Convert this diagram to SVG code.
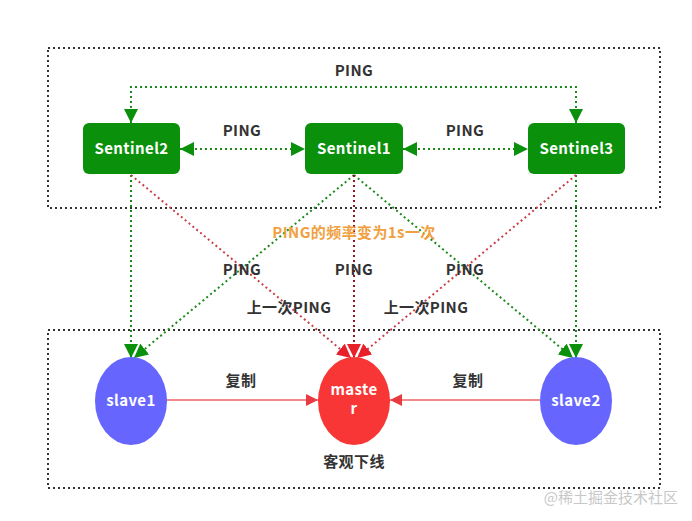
<svg xmlns="http://www.w3.org/2000/svg" width="692" height="521" viewBox="0 0 692 521">
<style>
.t{font-family:"Noto Sans CJK SC","Liberation Sans",sans-serif;font-weight:bold;font-size:15px;letter-spacing:0.4px;fill:#333;text-anchor:middle}
.w{fill:#fff}
.box{fill:none;stroke:#333;stroke-width:2;stroke-dasharray:2 3}
.g{fill:none;stroke:#1a8a1a;stroke-width:2;stroke-dasharray:2 3}
.r{fill:none;stroke:#c8404a;stroke-width:2;stroke-dasharray:2 3}
.dr{fill:none;stroke:#9a1020;stroke-width:2;stroke-dasharray:2 3}
.s{fill:none;stroke:#f08a8a;stroke-width:2}
.sent{fill:#0a900a}
</style>
<defs>
<marker id="agb" viewBox="0 0 10 10" refX="10" refY="5" markerWidth="14" markerHeight="14" markerUnits="userSpaceOnUse" orient="auto-start-reverse"><path d="M0,0 L10,5 L0,10 z" fill="#0a900a"/></marker>
<marker id="arb" viewBox="0 0 10 10" refX="10" refY="5" markerWidth="14" markerHeight="14" markerUnits="userSpaceOnUse" orient="auto"><path d="M0,0 L10,5 L0,10 z" fill="#e8202a"/></marker>
<marker id="ars" viewBox="0 0 10 10" refX="10" refY="5" markerWidth="12" markerHeight="12" markerUnits="userSpaceOnUse" orient="auto"><path d="M0,0 L10,5 L0,10 z" fill="#e83a40"/></marker>
</defs>
<rect class="box" x="48" y="48" width="612" height="160"/>
<rect class="box" x="48" y="330" width="612" height="158"/>
<g id="connectors">
<path class="g" d="M131,123 V87 H576 V123" marker-start="url(#agb)" marker-end="url(#agb)"/>
<line class="g" x1="180" y1="149" x2="305" y2="149" marker-start="url(#agb)" marker-end="url(#agb)"/>
<line class="g" x1="403" y1="149" x2="528" y2="149" marker-start="url(#agb)" marker-end="url(#agb)"/>
<line class="g" x1="131" y1="175" x2="131" y2="358" marker-end="url(#agb)"/>
<line class="g" x1="354" y1="175" x2="134" y2="358" marker-end="url(#agb)"/>
<line class="g" x1="354" y1="175" x2="573" y2="358" marker-end="url(#agb)"/>
<line class="g" x1="576" y1="175" x2="576" y2="358" marker-end="url(#agb)"/>
<line class="r" x1="131" y1="175" x2="351" y2="358" marker-end="url(#arb)"/>
<line class="dr" x1="354" y1="175" x2="354" y2="358" marker-end="url(#arb)"/>
<line class="r" x1="576" y1="175" x2="357" y2="358" marker-end="url(#arb)"/>
<line class="s" x1="167" y1="400" x2="318" y2="400" marker-end="url(#ars)"/>
<line class="s" x1="540" y1="400" x2="390" y2="400" marker-end="url(#ars)"/>
</g>
<g id="sentinel2"><rect class="sent" x="83" y="123" width="97" height="51" rx="6"/><text class="t w" x="131.5" y="154">Sentinel2</text></g>
<g id="sentinel1"><rect class="sent" x="305" y="123" width="98" height="51" rx="6"/><text class="t w" x="354" y="154">Sentinel1</text></g>
<g id="sentinel3"><rect class="sent" x="528" y="123" width="97" height="51" rx="6"/><text class="t w" x="576.5" y="154">Sentinel3</text></g>
<g id="slave1"><ellipse cx="131" cy="401" rx="36" ry="44" fill="#6666ff"/><text class="t w" x="131" y="406">slave1</text></g>
<g id="master"><ellipse cx="354" cy="401" rx="36" ry="44" fill="#f83636"/><text class="t w" x="354" y="395">maste</text><text class="t w" x="354" y="414">r</text></g>
<g id="slave2"><ellipse cx="576" cy="401" rx="36" ry="44" fill="#6666ff"/><text class="t w" x="576" y="406">slave2</text></g>
<g id="labels">
<text class="t" x="354" y="76">PING</text>
<text class="t" x="242" y="136">PING</text>
<text class="t" x="465" y="136">PING</text>
<text class="t" x="354" y="238" style="fill:#f0a040">PING的频率变为1s一次</text>
<text class="t" x="242" y="275">PING</text>
<text class="t" x="354" y="275">PING</text>
<text class="t" x="465" y="275">PING</text>
<text class="t" x="289" y="313">上一次PING</text>
<text class="t" x="426" y="313">上一次PING</text>
<text class="t" x="241" y="386">复制</text>
<text class="t" x="468" y="386">复制</text>
<text class="t" x="354" y="467">客观下线</text>
<text x="678" y="503" style="font-family:'Noto Sans CJK SC',sans-serif;font-size:15px;fill:#c8c8c8;text-anchor:end">@稀土掘金技术社区</text>
</g>
</svg>
